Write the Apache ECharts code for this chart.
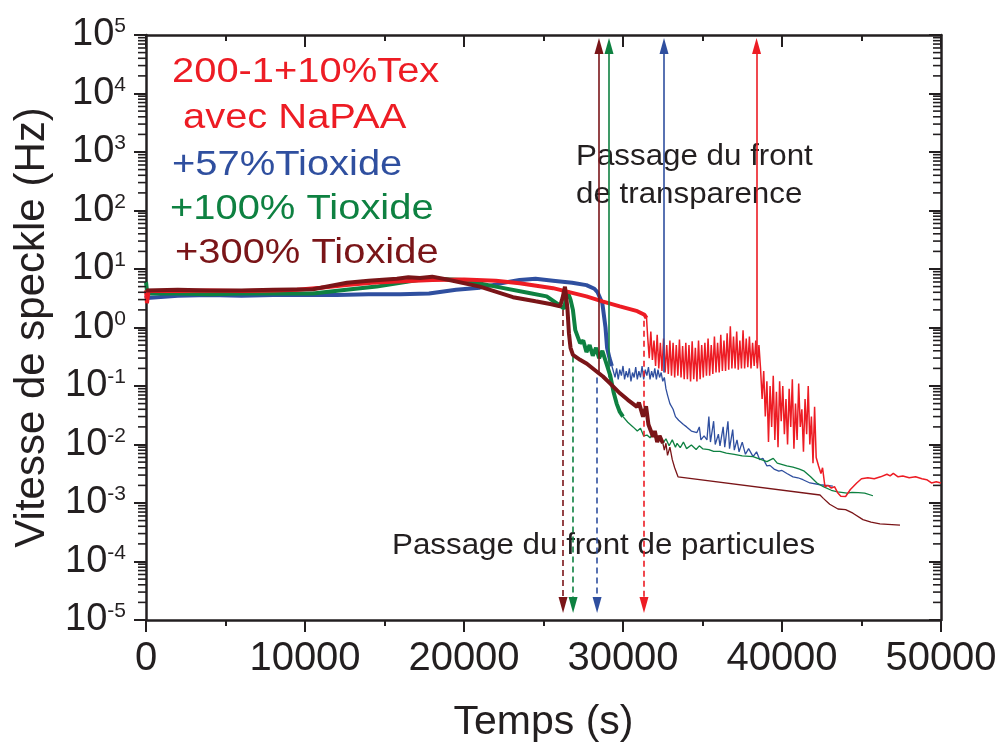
<!DOCTYPE html>
<html><head><meta charset="utf-8">
<script src="https://cdn.jsdelivr.net/npm/echarts@6/dist/echarts.min.js"></script>
<style>html,body{margin:0;padding:0;background:#fff}#c{width:998px;height:743px}</style>
</head><body><div id="c"></div>
<script>
// ---------------- data ----------------
const xTickValues = [0, 10000, 20000, 30000, 40000, 50000];
const yMinExp = -5, yMaxExp = 5;
const legendLines = ['200-1+10%Tex', 'avec NaPAA', '+57%Tioxide', '+100% Tioxide', '+300% Tioxide'];
const annotTransparence = ['Passage du front', 'de transparence'];
const annotParticules = 'Passage du front de particules';
const xTitle = 'Temps (s)';
const yTitle = 'Vitesse de speckle (Hz)';

// 200-1+10%Tex avec NaPAA (red)
const redEarly = [[0,4.3],[60,2.6],[160,4.2],[2000,4.2],[4000,4.3],[6000,4.2],[8000,4.3],[9500,4.4],[11000,4.8],[12600,5.3],[14200,5.8],[15800,6.1],[18000,6.5],[20000,6.6],[22000,6.3],[23500,5.7],[25600,4.7],[27700,3.4],[28700,2.8],[29800,2.3],[30900,1.9],[31350,1.65],[31480,1.45]];
const redLate = [[31480,1.45],[31550,0.7],[31650,0.3],[31750,0.85],[31850,0.28],[31950,0.6],[32050,0.22],[32150,0.75],[32250,0.2],[32350,0.55],[32450,0.18],[32550,0.65],[32650,0.17],[32750,0.5],[32850,0.16],[32950,0.6],[33050,0.15],[33150,0.55],[33250,0.14],[33350,0.5],[33450,0.15],[33550,0.62],[33650,0.14],[33750,0.48],[33850,0.13],[33950,0.55],[34050,0.13],[34150,0.5],[34250,0.12],[34350,0.58],[34450,0.13],[34550,0.45],[34650,0.12],[34750,0.6],[34850,0.13],[34950,0.5],[35050,0.14],[35150,0.55],[35250,0.15],[35350,0.65],[35450,0.15],[35550,0.5],[35650,0.16],[35750,0.7],[35850,0.17],[35950,0.55],[36050,0.17],[36150,0.75],[36250,0.18],[36350,0.6],[36450,0.18],[36550,0.8],[36650,0.19],[36750,1.05],[36850,0.2],[36950,0.7],[37050,0.2],[37150,0.85],[37250,0.19],[37350,0.6],[37450,0.2],[37550,0.9],[37650,0.2],[37750,0.65],[37850,0.21],[37950,0.7],[38050,0.2],[38150,0.55],[38250,0.22],[38350,0.6],[38450,0.2],[38550,0.5],[38650,0.2],[38750,0.06],[38850,0.18],[38950,0.03],[39050,0.12],[39150,0.011],[39250,0.1],[39350,0.02],[39450,0.15],[39550,0.012],[39650,0.08],[39750,0.009],[39850,0.12],[39950,0.025],[40050,0.1],[40150,0.015],[40250,0.06],[40350,0.01],[40450,0.09],[40550,0.02],[40650,0.13],[40750,0.0085],[40850,0.05],[40950,0.012],[41050,0.11],[41150,0.02],[41250,0.04],[41350,0.0075],[41450,0.06],[41550,0.015],[41650,0.1],[41750,0.01],[41850,0.03],[41950,0.0048],[42050,0.044],[42150,0.006],[42300,0.0043],[42450,0.0032],[42550,0.004],[42700,0.0019],[42900,0.002],[43100,0.0018],[43300,0.0019],[43500,0.0015],[43700,0.0013],[44000,0.00129],[44300,0.0017],[44700,0.0022],[45000,0.0026],[45400,0.0027],[45800,0.0026],[46200,0.0028],[46600,0.0031],[46800,0.0029],[47000,0.0032],[47300,0.0028],[47600,0.0029],[48000,0.0027],[48400,0.0028],[48800,0.0026],[49100,0.0025],[49400,0.0022],[49700,0.0023],[50000,0.0022]];

// +57% Tioxide (blue)
const blueEarly = [[0,3.5],[60,3.2],[2000,3.5],[4000,3.6],[6000,3.5],[8000,3.6],[10000,3.6],[12000,3.6],[14000,3.7],[16000,3.7],[17800,3.8],[18600,4.1],[19500,4.4],[21000,4.8],[22500,5.8],[23500,6.5],[24500,6.8],[25600,6.3],[26800,5.8],[27700,5.3],[28200,4.6],[28400,4.0],[28700,2.6],[28900,1.0],[29000,0.45],[29150,0.3],[29300,0.22]];
const blueLate = [[29300,0.22],[29400,0.21],[29500,0.14],[29600,0.2],[29700,0.13],[29800,0.19],[29900,0.15],[30000,0.22],[30100,0.13],[30200,0.18],[30300,0.14],[30400,0.2],[30500,0.12],[30600,0.17],[30700,0.14],[30800,0.21],[30900,0.13],[31000,0.18],[31100,0.14],[31200,0.22],[31300,0.13],[31400,0.19],[31500,0.15],[31600,0.21],[31700,0.13],[31800,0.18],[31900,0.14],[32000,0.2],[32100,0.13],[32200,0.19],[32300,0.14],[32400,0.17],[32500,0.12],[32600,0.14],[32700,0.09],[32800,0.07],[32950,0.05],[33150,0.04],[33300,0.03],[33500,0.026],[33800,0.022],[34000,0.02],[34300,0.017],[34650,0.016],[34800,0.02],[34900,0.012],[35100,0.014],[35280,0.012],[35400,0.03],[35500,0.011],[35700,0.025],[35800,0.01],[36000,0.015],[36100,0.0095],[36300,0.02],[36400,0.009],[36600,0.025],[36700,0.0085],[36900,0.018],[37000,0.008],[37170,0.012],[37300,0.0075],[37500,0.011],[37700,0.0068],[37900,0.0085],[38180,0.0062],[38400,0.0075],[38600,0.0055],[38800,0.0058],[39050,0.0043],[39240,0.0044],[39500,0.0038],[39800,0.0035],[40000,0.0036],[40310,0.0032],[40690,0.0028],[41000,0.0027],[41320,0.0025],[41760,0.0022],[42400,0.00205],[43200,0.00195]];

// +100% Tioxide (green)
const greenEarly = [[0,6.0],[80,3.8],[2000,3.8],[4000,3.7],[6000,3.8],[8000,3.8],[10500,3.8],[12600,4.4],[14500,5.0],[15800,5.7],[17000,6.4],[17900,6.9],[19900,6.5],[22000,5.0],[24100,3.9],[25200,3.4],[26000,2.4],[26300,2.1],[26500,4.2],[26700,3.0],[26850,2.0],[27000,0.9],[27300,0.54],[27500,0.6],[27700,0.38],[27900,0.5],[28100,0.33],[28300,0.45],[28500,0.3],[28700,0.4],[28900,0.27],[29000,0.28],[29200,0.15],[29400,0.08],[29600,0.05],[29800,0.036],[30000,0.03]];
const greenLate = [[30000,0.03],[30300,0.024],[30630,0.02],[30900,0.017],[31100,0.019],[31300,0.014],[31510,0.0145],[31700,0.013],[31900,0.016],[32100,0.012],[32330,0.014],[32500,0.0105],[32700,0.0125],[32900,0.0095],[33100,0.012],[33300,0.009],[33400,0.0105],[33600,0.0088],[33800,0.011],[34000,0.0085],[34300,0.0098],[34600,0.0082],[34800,0.0095],[35030,0.0084],[35400,0.0082],[35700,0.0076],[36100,0.0076],[36500,0.0071],[37000,0.0068],[37500,0.0064],[38180,0.0062],[38700,0.0055],[39050,0.0051],[39450,0.0058],[39700,0.0048],[40300,0.0043],[40690,0.0041],[41100,0.0038],[41400,0.0035],[41800,0.0028],[42200,0.0022],[42600,0.0019],[43100,0.00165],[43500,0.00155],[44090,0.00147],[44400,0.00152],[44800,0.0015],[45200,0.00148],[45720,0.00133]];

// +300% Tioxide (dark red)
const darkEarly = [[0,4.3],[2000,4.4],[4000,4.3],[6000,4.3],[8000,4.4],[10500,4.5],[12640,5.8],[14000,6.3],[15780,6.8],[16500,7.2],[17230,7.0],[18000,7.4],[18930,6.6],[21000,5.0],[23080,3.3],[24500,2.8],[25500,2.5],[26040,2.3],[26200,3.2],[26350,5.0],[26500,2.2],[26600,0.8],[26700,0.45],[26850,0.34],[27300,0.28],[27730,0.24],[28200,0.19],[28740,0.145],[29200,0.11],[29810,0.075],[30300,0.058],[30880,0.044],[31000,0.052],[31260,0.03],[31450,0.045],[31600,0.022],[31890,0.0136],[32000,0.017],[32150,0.011],[32300,0.014],[32510,0.0105]];
const darkLate = [[32510,0.0105],[32600,0.008],[32700,0.0105],[32800,0.0065],[32950,0.009],[33100,0.0055],[33250,0.004],[33460,0.0028],[42390,0.00137],[42600,0.0012],[43000,0.00095],[43520,0.00079],[44000,0.00077],[44460,0.00067],[45090,0.00052],[45600,0.00047],[46160,0.00044],[47420,0.00042]];

// arrows: order dark red, green, blue, red
const transFrontTimes = [28490, 29120, 32580, 38400];
const transFrontStart = [0.166, 0.14, 0.17, 0.25];
const arrowTopValue = 6.5e4;
const partFrontTimes = [26230, 26860, 28370, 31320];
const partFrontStart = [2.0, 0.32, 0.14, 1.3];
const arrowBottomValue = 1.8e-5;

// log minor tick multipliers (2..9 within each decade)
const minorMultipliers = [2, 3, 4, 5, 6, 7, 8, 9];

// ---------------- styles ----------------
const RED = '#ed1c24', BLUE = '#2f4f9f', GREEN = '#0e8141', DARK = '#7a1518', AX = '#231f20';
const FONT = '"Liberation Sans", Arial, Helvetica, sans-serif';
const arrowColors = [DARK, GREEN, BLUE, RED];

const chart = echarts.init(document.getElementById('c'), null, {renderer: 'canvas'});

function lineSeries(name, data, color, width, z) {
  return {name, type: 'line', data, showSymbol: false, symbol: 'none', z,
    lineStyle: {color, width}, itemStyle: {color}, silent: true, animation: false};
}
const transLines = transFrontTimes.map((t, i) => [
  {coord: [t, transFrontStart[i]], lineStyle: {color: arrowColors[i], width: 1.6, type: 'solid'}, itemStyle: {color: arrowColors[i]}},
  {coord: [t, arrowTopValue]}]);
const partLines = partFrontTimes.map((t, i) => [
  {coord: [t, partFrontStart[i]], lineStyle: {color: arrowColors[i], width: 1.6, type: [6, 4]}, itemStyle: {color: arrowColors[i]}},
  {coord: [t, arrowBottomValue]}]);

const arrowSeries = {
  type: 'line', data: [], z: 10, silent: true,
  markLine: {silent: true, animation: false, symbol: ['none', 'triangle'], symbolSize: [9, 16],
    label: {show: false}, emphasis: {disabled: true}, data: transLines.concat(partLines)}
};

const yLabelFormatter = v => {
  const e = Math.round(Math.log10(v));
  return '{b|10}{s|' + e + '}';
};

const axisCommonX = {type: 'value', min: xTickValues[0], max: xTickValues[xTickValues.length - 1], interval: 10000, splitLine: {show: false}};
const axisCommonY = {type: 'log', logBase: 10, min: Math.pow(10, yMinExp), max: Math.pow(10, yMaxExp), interval: 1, splitNumber: 10, splitLine: {show: false}};

const textGraphics = [
  {type: 'text', id: 'l0', x: 172, y: 72, scaleX: 1.14, style: {text: legendLines[0], font: '35px ' + FONT, fill: RED, align: 'left', verticalAlign: 'middle'}},
  {type: 'text', id: 'l1', x: 183, y: 118, scaleX: 1.14, style: {text: legendLines[1], font: '35px ' + FONT, fill: RED, align: 'left', verticalAlign: 'middle'}},
  {type: 'text', id: 'l2', x: 172, y: 165, scaleX: 1.14, style: {text: legendLines[2], font: '35px ' + FONT, fill: BLUE, align: 'left', verticalAlign: 'middle'}},
  {type: 'text', id: 'l3', x: 170, y: 209, scaleX: 1.14, style: {text: legendLines[3], font: '35px ' + FONT, fill: GREEN, align: 'left', verticalAlign: 'middle'}},
  {type: 'text', id: 'l4', x: 175, y: 253, scaleX: 1.14, style: {text: legendLines[4], font: '35px ' + FONT, fill: DARK, align: 'left', verticalAlign: 'middle'}},
  {type: 'text', id: 'a0', x: 576, y: 157, scaleX: 1.08, style: {text: annotTransparence[0], font: '29px ' + FONT, fill: AX, align: 'left', verticalAlign: 'middle'}},
  {type: 'text', id: 'a1', x: 576, y: 195, scaleX: 1.08, style: {text: annotTransparence[1], font: '29px ' + FONT, fill: AX, align: 'left', verticalAlign: 'middle'}},
  {type: 'text', id: 'a2', x: 392, y: 546, scaleX: 1.08, style: {text: annotParticules, font: '29px ' + FONT, fill: AX, align: 'left', verticalAlign: 'middle'}}
];

const option = {
  animation: false,
  backgroundColor: '#fff',
  grid: {left: 146, right: 57, top: 35, bottom: 123, containLabel: false, outerBoundsMode: 'none'},
  xAxis: [
    Object.assign({}, axisCommonX, {position: 'bottom',
      axisLine: {onZero: false, lineStyle: {color: AX, width: 2.5}},
      axisTick: {inside: false, length: 12, lineStyle: {color: AX, width: 2}},
      minorTick: {show: true, splitNumber: 2, length: 6, lineStyle: {color: AX, width: 2}},
      axisLabel: {margin: 19, fontSize: 40, fontFamily: FONT, color: AX, formatter: v => String(v)},
      name: xTitle, nameLocation: 'middle', nameGap: 82,
      nameTextStyle: {fontSize: 41, fontFamily: FONT, color: AX}}),
    Object.assign({}, axisCommonX, {position: 'top',
      axisLine: {onZero: false, lineStyle: {color: AX, width: 2.5}},
      axisTick: {inside: true, length: 12, lineStyle: {color: AX, width: 2}},
      minorTick: {show: true, splitNumber: 2, length: 6, lineStyle: {color: AX, width: 2}},
      axisLabel: {show: false}})
  ],
  yAxis: [
    Object.assign({}, axisCommonY, {position: 'left',
      axisLine: {onZero: false, lineStyle: {color: AX, width: 2.5}},
      axisTick: {inside: false, length: 12, lineStyle: {color: AX, width: 2}},
      minorTick: {show: false},
      axisLabel: {margin: 20, formatter: yLabelFormatter,
        rich: {b: {fontSize: 38, fontFamily: FONT, color: AX},
               s: {fontSize: 21, fontFamily: FONT, color: AX, verticalAlign: 'top'}}},
      name: yTitle, nameLocation: 'middle', nameGap: 93, nameRotate: 90,
      nameTextStyle: {fontSize: 42, fontFamily: FONT, color: AX}}),
    Object.assign({}, axisCommonY, {position: 'right',
      axisLine: {onZero: false, lineStyle: {color: AX, width: 2.5}},
      axisTick: {inside: true, length: 12, lineStyle: {color: AX, width: 2}},
      minorTick: {show: false},
      axisLabel: {show: false}})
  ],
  series: [
    lineSeries('+57%Tioxide', blueEarly, BLUE, 4, 2),
    lineSeries('+57%Tioxide ', blueLate, BLUE, 1.3, 2),
    lineSeries('+100% Tioxide', greenEarly, GREEN, 4, 3),
    lineSeries('+100% Tioxide ', greenLate, GREEN, 1.3, 3),
    lineSeries('200-1+10%Tex', redEarly, RED, 4, 4),
    lineSeries('200-1+10%Tex ', redLate, RED, 1.5, 4),
    lineSeries('+300% Tioxide', darkEarly, DARK, 4, 5),
    lineSeries('+300% Tioxide ', darkLate, DARK, 1.3, 5),
    arrowSeries
  ],
  graphic: textGraphics
};
chart.setOption(option);

// log minor ticks (2..9 in each decade), placed through the axis scale
const xLeft = chart.convertToPixel({xAxisIndex: 0}, xTickValues[0]);
const xRight = chart.convertToPixel({xAxisIndex: 0}, xTickValues[xTickValues.length - 1]);
const tickGraphics = [];
for (let e = yMinExp; e < yMaxExp; e++) {
  minorMultipliers.forEach((m, k) => {
    const py = chart.convertToPixel({yAxisIndex: 0}, m * Math.pow(10, e));
    tickGraphics.push({type: 'line', id: 'tl' + e + '_' + k, silent: true, z: 50,
      shape: {x1: xLeft - 8, y1: py, x2: xLeft, y2: py}, style: {stroke: AX, lineWidth: 1.6}});
    tickGraphics.push({type: 'line', id: 'tr' + e + '_' + k, silent: true, z: 50,
      shape: {x1: xRight - 8, y1: py, x2: xRight, y2: py}, style: {stroke: AX, lineWidth: 1.6}});
  });
}
chart.setOption({graphic: textGraphics.concat(tickGraphics)});
</script>
</body></html>
